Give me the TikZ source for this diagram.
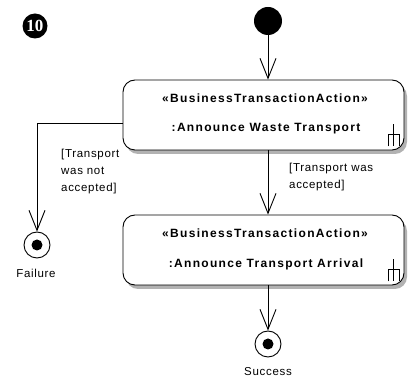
\documentclass[tikz,border=0pt]{standalone}
\usepackage{fontspec}
\setmainfont{Liberation Sans}
\newfontfamily\actfont[LetterSpace=11]{Liberation Sans}
\newfontfamily\lblfont[LetterSpace=6]{Liberation Sans}
\newfontfamily\numfont{Liberation Serif}
\usetikzlibrary{arrows.meta,shadows}
\begin{document}
\begin{tikzpicture}[x=1pt,y=-1pt,
  flow/.style={line width=0.9pt, -{Straight Barb[length=20pt,width=16pt,line width=0.9pt]}},
  action/.style={draw, line width=0.9pt, rounded corners=12pt, minimum width=281pt,
    minimum height=70pt, fill=white,
    drop shadow={shadow xshift=3pt, shadow yshift=-4pt, fill=black!30, opacity=1}},
  acttext/.style={font=\actfont\bfseries\fontsize{12}{14}\selectfont, inner sep=0pt},
  guard/.style={font=\lblfont\fontsize{11.5}{17}\selectfont, align=left, anchor=north west, inner sep=0pt},
  caption/.style={font=\lblfont\fontsize{11.5}{14}\selectfont, inner sep=0pt},
  initial/.style={circle, fill=black, minimum size=28pt, inner sep=0pt},
  final/.style={circle, draw, line width=0.9pt, minimum size=26pt, inner sep=0pt, fill=white,
    path picture={\fill[black] (path picture bounding box.center) circle (5.5pt);}},
  rake/.pic={\draw[line width=0.8pt] (0,0) -- (0,22) (-5.5,22) -- (-5.5,10) -- (5.5,10) -- (5.5,22);}
]
\useasboundingbox (0,0) rectangle (408,382);

% diagram number
\node[circle, fill=black, minimum size=25pt, inner sep=0pt, text=white,
  font=\numfont\bfseries\fontsize{17}{17}\selectfont] (num) at (35,26) {10};

% nodes
\node[initial] (init) at (268,21) {};
\node[action] (a1) at (263.5,115) {};
\node[acttext] (a1s) at (265,98) {«BusinessTransactionAction»};
\node[acttext] (a1n) at (266,129) {:Announce Waste Transport};
\path (a1.south east) ++(-11,-26) pic {rake};

\node[action] (a2) at (263.5,250) {};
\node[acttext] (a2s) at (265,233) {«BusinessTransactionAction»};
\node[acttext] (a2n) at (266,264) {:Announce Transport Arrival};
\path (a2.south east) ++(-11,-26) pic {rake};

\node[final] (fail) at (37,245) {};
\node[caption] (failt) at (36,273) {Failure};
\node[final] (succ) at (268,344) {};
\node[caption] (succt) at (268,372) {Success};

% control flows
\draw[flow] (init) -- (init |- a1.north);
\draw[flow] (a1.south -| init) -- (a2.north -| init);
\draw[flow] (a2.south -| succ) -- (succ);
\draw[flow] ([yshift=-8pt]a1.west) -| (fail);

% guards
\node[guard] (g1) at (61,149) {[Transport\\was not\\accepted]};
\node[guard] (g2) at (289,163) {[Transport was\\accepted]};
\end{tikzpicture}
\end{document}
